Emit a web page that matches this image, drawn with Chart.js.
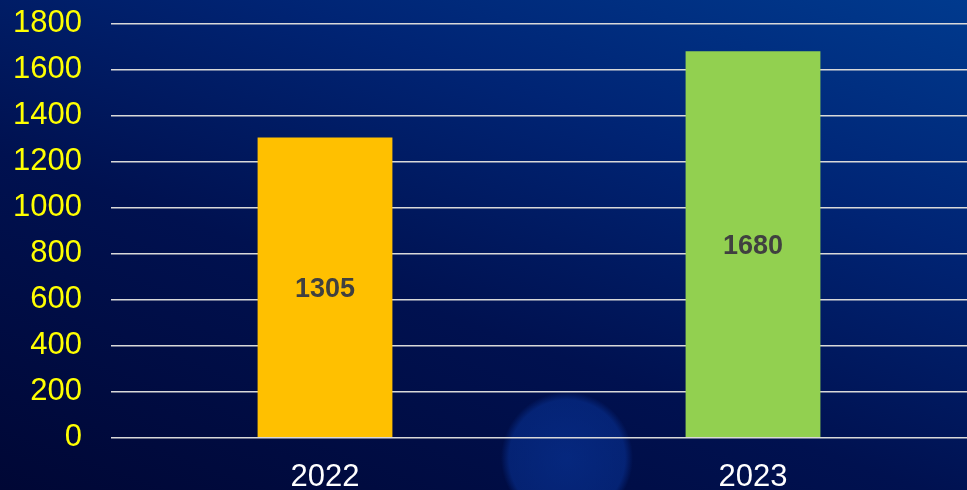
<!DOCTYPE html>
<html>
<head>
<meta charset="utf-8">
<script src="https://cdn.jsdelivr.net/npm/chart.js@4/dist/chart.umd.min.js"></script>
<style>
    html, body {
        margin: 0;
        padding: 0;
        width: 967px;
        height: 490px;
        overflow: hidden;
    }
    body {
        background:
            radial-gradient(circle at 567px 458px, rgba(10, 60, 170, 0.55) 0px, rgba(10, 60, 170, 0.45) 58px, rgba(10, 60, 170, 0) 66px),
            linear-gradient(20deg, #000735 0%, #001150 40%, #002474 70%, #003a8e 100%);
    }
    .ContainerGrafico {
        position: relative;
        width: 967px;
        height: 490px;
    }
</style>
</head>
<body>
<div class="ContainerGrafico">
    <canvas id="grafico"></canvas>
</div>
<script>
const categorias = ['2022', '2023'];
const valores = [1305, 1680];
const coresBarras = ['#FFC000', '#92D050'];
const ticksY = [0, 200, 400, 600, 800, 1000, 1200, 1400, 1600, 1800];

// escreve o valor no meio da barra
const rotuloBarras = {
    id: 'rotuloBarras',
    afterDatasetsDraw(chart) {
        const ctx = chart.ctx;
        const meta = chart.getDatasetMeta(0);
        ctx.save();
        ctx.font = 'bold 27px "Liberation Sans", Arial, sans-serif';
        ctx.fillStyle = '#404040';
        ctx.textAlign = 'center';
        ctx.textBaseline = 'middle';
        meta.data.forEach((bar, i) => {
            const meio = (bar.y + bar.base) / 2;
            ctx.fillText(String(valores[i]), bar.x, meio + 2);
        });
        ctx.restore();
    }
};

const config = {
    type: 'bar',
    data: {
        labels: categorias,
        datasets: [{
            data: valores,
            backgroundColor: coresBarras,
            borderWidth: 0,
            barPercentage: 0.63,
            categoryPercentage: 0.5
        }]
    },
    options: {
        responsive: true,
        maintainAspectRatio: false,
        animation: false,
        layout: {
            // o eixo x reserva espaco demais embaixo, por isso o bottom negativo
            padding: { top: 0, left: 0, right: 0, bottom: -27 }
        },
        plugins: {
            legend: { display: false },
            tooltip: { enabled: false }
        },
        scales: {
            x: {
                grid: { display: false, drawTicks: false },
                border: { display: false },
                ticks: {
                    color: '#FFFFFF',
                    padding: 21,
                    font: { family: '"Liberation Sans", Arial, sans-serif', size: 31 }
                }
            },
            y: {
                min: 0,
                max: 1800,
                afterBuildTicks(axis) {
                    axis.ticks = ticksY.map(v => ({ value: v }));
                },
                afterFit(axis) {
                    axis.width = 111;
                },
                grid: {
                    color: '#d9d9d9',
                    lineWidth: 1.6,
                    drawTicks: true,
                    tickLength: 24,
                    tickColor: 'rgba(0,0,0,0)'
                },
                border: { display: false },
                ticks: {
                    color: '#FFFF00',
                    padding: 5,
                    callback: (v) => String(v),
                    font: { family: '"Liberation Sans", Arial, sans-serif', size: 31 }
                }
            }
        }
    },
    plugins: [rotuloBarras]
};

new Chart(document.getElementById('grafico'), config);
</script>
</body>
</html>
